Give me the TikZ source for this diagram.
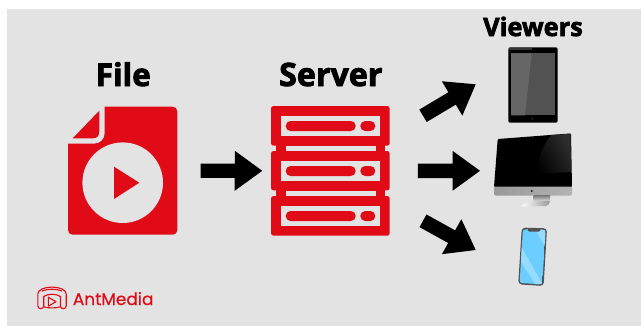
\documentclass[tikz,border=0pt]{standalone}
\usepackage{fontspec}
\setmainfont{Open Sans}
\newfontfamily\headfont[BoldFont={Open Sans Bold},BoldFeatures={FakeBold=2.6}]{Open Sans}
\newfontfamily\logofont[FakeBold=0.5]{Poppins}
\usetikzlibrary{calc}
\definecolor{amred}{HTML}{E10A17}
\definecolor{panel}{HTML}{E3E3E3}
\definecolor{phoneblue}{HTML}{6CCDFF}
\definecolor{phonelight}{HTML}{97DBFF}
\tikzset{
  iconbox/.style={inner sep=0pt,outer sep=0pt,minimum width=#1},
  headlabel/.style={text=black,inner sep=0pt,anchor=base},
  bigarrow/.style={fill=black,line join=round,to path={
    ($(\tikztostart)!7.2bp!90:(\tikztotarget)$)
    -- ($($(\tikztotarget)!27.5bp!(\tikztostart)$)!7.2bp!90:(\tikztotarget)$)
    -- ($($(\tikztotarget)!27.5bp!(\tikztostart)$)!20bp!90:(\tikztotarget)$)
    -- (\tikztotarget)
    -- ($($(\tikztotarget)!27.5bp!(\tikztostart)$)!20bp!-90:(\tikztotarget)$)
    -- ($($(\tikztotarget)!27.5bp!(\tikztostart)$)!7.2bp!-90:(\tikztotarget)$)
    -- ($(\tikztostart)!7.2bp!-90:(\tikztotarget)$)
    -- cycle}},
  rack/.style={fill=amred,rounded corners=2.5bp},
  slot/.style={fill=panel},
  pill/.style={fill=amred,rounded corners=4.9bp},
  logoline/.style={draw=amred,line width=1.1bp,line join=round,line cap=round,fill=none},
}
\begin{document}
\begin{tikzpicture}[x=1bp,y=-1bp]
\useasboundingbox (0,0) rectangle (641,326);
\fill[white] (0,0) rectangle (641,326);
\fill[panel] (7,9) rectangle (641,326);

% headings
\node[headlabel,font=\headfont\bfseries\fontsize{31.5}{31.5}\selectfont] (filelabel) at (123.3,86) {File};
\node[headlabel,font=\headfont\bfseries\fontsize{32.3}{32.3}\selectfont] (serverlabel) at (330.8,86) {Server};
\node[headlabel,font=\headfont\bfseries\fontsize{25.5}{25.5}\selectfont] (viewerslabel) at (533,36) {Viewers};

% file icon
\node[iconbox=109.3bp,minimum height=128bp] (fileicon) at (122.7,170.7) {};
\fill[amred] (104.7,106.7) [rounded corners=4.5bp] -- (177.3,106.7) -- (177.3,234.7) -- (68,234.7) -- (68,200) [sharp corners] -- (68,143.7) -- (94,143.7) .. controls (100.5,143.7) and (104.7,139) .. (104.7,133) -- cycle;
\fill[amred] (72.7,138.3) -- (99.3,110.7) -- (99.3,131.5) .. controls (99.3,136) and (97,138.3) .. (93,138.3) -- cycle;
\fill[panel] (122.7,182.7) circle[radius=40.3bp];
\fill[amred] (114,166.7) -- (139.3,182.7) -- (114,199) -- cycle;

% server icon
\node[iconbox=118.7bp,minimum height=129.7bp] (servericon) at (330.3,170.8) {};
\fill[amred] (276,140) rectangle (385,202);
\fill[rack] (271,106) rectangle (389.7,145.7);
\fill[rack] (271,151) rectangle (389.7,190.4);
\fill[rack] (271,196) rectangle (389.7,235.7);
\fill[slot] (285.7,146) rectangle (375.7,150.7);
\fill[slot] (285.7,191) rectangle (375.7,195.7);
\fill[slot] (280.7,116) rectangle (380.3,135.7);
\fill[slot] (280.7,161) rectangle (380.3,180.7);
\fill[slot] (280.7,206) rectangle (380.3,225.7);
\fill[pill] (285.7,121) rectangle (355.7,131);
\fill[pill] (360.3,121) rectangle (375.3,131);
\fill[pill] (285.7,166) rectangle (355.7,176);
\fill[pill] (360.3,166) rectangle (375.3,176);
\fill[pill] (285.7,211) rectangle (355.7,221);
\fill[pill] (360.3,211) rectangle (375.3,221);

% tablet
\node[iconbox=49.4bp,minimum height=75.4bp] (tablet) at (533,85) {};
\fill[black,rounded corners=2bp] (508.3,47.3) rectangle (557.7,122.7);
\fill[black!80] (508.8,47.6) rectangle (532,50);
\fill[black!68] (511,53.3) rectangle (554.7,115.3);
\fill[black!60] (511,53.3) -- (531.7,53.3) -- (525,115.3) -- (511,115.3) -- cycle;
\fill[black!70] (532.5,118.7) circle[radius=0.7bp];

% monitor
\node[iconbox=78bp,minimum height=73bp] (monitor) at (533,170.8) {};
\fill[black,rounded corners=1bp] (497.7,139) -- (571,133.4) -- (572,187) -- (494,187) -- cycle;
\shade[left color=black!82,right color=black,shading angle=300] (551.5,135) -- (570.5,133.8) -- (571,172) -- (533,174) .. controls (539,160) and (541,146) .. cycle;
\shade[left color=black!40,middle color=white,right color=black!30,rounded corners=1bp] (494,186.5) -- (572,186.5) -- (572,194) -- (571,195.7) -- (495,195.7) -- (494,194) -- cycle;
\fill[black!85] (531.7,191) circle[radius=1.2bp];
\shade[top color=black!50,bottom color=black!15] (533.5,195.7) -- (550,195.7) -- (550,201) -- (533.5,201) -- cycle;
\shade[left color=white,right color=black!40] (521.5,205.5) .. controls (526,202.5) and (532,201.5) .. (534,201) -- (550,201) .. controls (550,204) and (548,205) .. (546,206) -- (525,206.5) .. controls (523,206.5) and (522,206) .. cycle;

% phone
\node[iconbox=28bp,minimum height=57bp] (phone) at (532.5,257) {};
\fill[black!68,rounded corners=3.5bp] (521.8,227.6) -- (547,228.3) -- (543.6,286) -- (518.2,284.3) -- cycle;
\begin{scope}
\clip[rounded corners=2.5bp] (522.9,229.4) -- (545.6,229.8) -- (542.2,284.4) -- (519.6,282.9) -- cycle;
\fill[phoneblue] (522.9,229.4) -- (545.6,229.8) -- (542.2,284.4) -- (519.6,282.9) -- cycle;
\fill[phonelight] (535,229) -- (545,229) -- (545,247) -- cycle;
\fill[phonelight] (521.5,247) -- (521,262) -- (536,285) -- (543,285) -- cycle;
\end{scope}
\fill[black!68,rounded corners=1bp] (527.5,229) -- (541,229) -- (539.5,231.7) -- (528.5,231.7) -- cycle;

% anchors of the free arrow ends
\coordinate (upstart) at (423,115.8);
\coordinate (uptip) at (475.7,84.3);
\coordinate (downstart) at (423,220.8);
\coordinate (downtip) at (475.7,250);

% arrows
\fill[bigarrow] ($(fileicon.east)+(23.3,0)$) to ($(servericon.west)+(-8.7,0)$);
\fill[bigarrow] ($(servericon.east)+(28.3,0)$) to ($(monitor.west)+(-14,0)$);
\fill[bigarrow] (upstart) to (uptip);
\fill[bigarrow] (downstart) to (downtip);

% logo
\node[iconbox=29.4bp,minimum height=22.4bp] (logoicon) at (52,297.8) {};
\draw[logoline] (37.8,294) .. controls (37.8,284.8) and (66.2,284.8) .. (66.2,294) -- (66.2,306) .. controls (66.2,309.5) and (60.5,309.5) .. (60.5,306) -- (60.5,296.5) .. controls (56,293.5) and (48,293.5) .. (43.7,296.5) -- (43.7,306) .. controls (43.7,309.5) and (37.8,309.5) .. (37.8,306) -- cycle;
\draw[logoline] (42,291) .. controls (48,288.6) and (56,288.6) .. (62,291);
\draw[logoline] (43.7,306.8) .. controls (48,308.3) and (56,308.3) .. (60.5,306.8);
\draw[logoline] (48.3,297.2) -- (48.3,306.2) -- (56,301.7) -- cycle;
\node[font=\logofont\fontsize{17}{17}\selectfont,text=amred,inner sep=0pt,anchor=base west] (logotext) at (72.7,305) {AntMedia};
\end{tikzpicture}
\end{document}
